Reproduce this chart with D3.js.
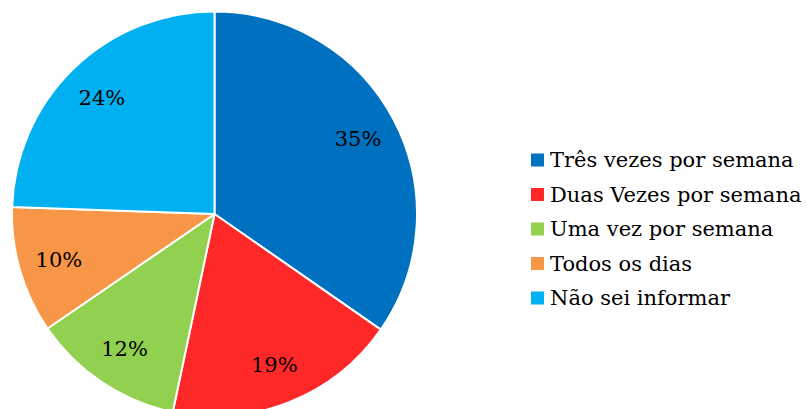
<!DOCTYPE html>
<html>
<head>
<meta charset="utf-8">
<script src="https://cdnjs.cloudflare.com/ajax/libs/d3/7.8.5/d3.min.js"></script>
<style>
  body { margin: 0; background: #fff; }
  svg { display: block; }
  svg text { font-family: "DejaVu Serif", serif; }
</style>
</head>
<body>
<script>
var categories = ["Três vezes por semana", "Duas Vezes por semana", "Uma vez por semana", "Todos os dias", "Não sei informar"],
    values = [34.6, 18.6, 12.1, 10.1, 24.4],
    colors = ["#0070C0", "#FF2828", "#92D050", "#F79646", "#00B0F0"];

var w = 807,
    h = 409,
    cx = 214.5,
    cy = 214,
    r = 202.5;

var svg = d3.select("body").append("svg")
    .attr("width", w)
    .attr("height", h);

var pie = d3.pie().sort(null).value(function(d){ return d; });
var arcs = pie(values);

var arc = d3.arc().innerRadius(0).outerRadius(r);
var labelArc = d3.arc().innerRadius(162).outerRadius(162);

var g = svg.append("g").attr("transform", "translate(" + cx + "," + cy + ")");

g.selectAll("path")
    .data(arcs)
    .enter()
    .append("path")
    .attr("d", arc)
    .attr("fill", function(d, i){ return colors[i]; })
    .attr("stroke", "#fff")
    .attr("stroke-width", 2)
    .attr("stroke-linejoin", "round");

g.selectAll("text")
    .data(arcs)
    .enter()
    .append("text")
    .attr("transform", function(d){ return "translate(" + labelArc.centroid(d) + ")"; })
    .attr("text-anchor", "middle")
    .attr("dy", "0.35em")
    .attr("font-size", "21px")
    .attr("fill", "#000")
    .text(function(d){ return Math.round(d.data) + "%"; });

var legend = svg.append("g").attr("transform", "translate(531,160)");

var item = legend.selectAll("g")
    .data(categories)
    .enter()
    .append("g")
    .attr("transform", function(d, i){ return "translate(0," + (i * 34.5) + ")"; });

item.append("rect")
    .attr("x", 0)
    .attr("y", -6.5)
    .attr("width", 13)
    .attr("height", 13)
    .attr("fill", function(d, i){ return colors[i]; });

item.append("text")
    .attr("x", 19)
    .attr("dy", "0.35em")
    .attr("font-size", "21px")
    .attr("fill", "#000")
    .text(function(d){ return d; });
</script>
</body>
</html>
